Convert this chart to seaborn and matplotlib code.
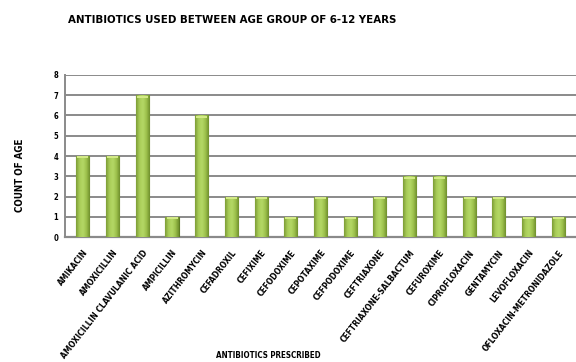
import matplotlib
matplotlib.use("Agg")
import matplotlib.pyplot as plt
import seaborn as sns
import numpy as np
import pandas as pd
from matplotlib.colors import LinearSegmentedColormap

antibiotics = [
    "AMIKACIN", "AMOXICILLIN", "AMOXICILLIN CLAVULANIC ACID", "AMPICILLIN",
    "AZITHROMYCIN", "CEFADROXIL", "CEFIXIME", "CEFODOXIME", "CEPOTAXIME",
    "CEFPODOXIME", "CEFTRIAXONE", "CEFTRIAXONE-SALBACTUM", "CEFUROXIME",
    "CIPROFLOXACIN", "GENTAMYCIN", "LEVOFLOXACIN", "OFLOXACIN-METRONIDAZOLE",
]
counts = [4, 4, 7, 1, 6, 2, 2, 1, 2, 1, 2, 3, 3, 2, 2, 1, 1]
y_ticks = [0, 1, 2, 3, 4, 5, 6, 7, 8]

df = pd.DataFrame({"antibiotic": antibiotics, "count": counts})

sns.set_style("white")
plt.rcParams["font.family"] = ["DejaVu Sans"]
plt.rcParams["font.stretch"] = "condensed"
plt.rcParams["font.weight"] = "bold"
plt.rcParams["text.color"] = "black"
plt.rcParams["xtick.labelcolor"] = "black"
plt.rcParams["ytick.labelcolor"] = "black"

fig = plt.figure(figsize=(5.76, 3.62), dpi=100)
ax = fig.add_axes([0.113, 0.345, 0.887, 0.448])

sns.barplot(data=df, x="antibiotic", y="count", color="#9cbf4c",
            width=0.44, edgecolor="#5e7d23", linewidth=0.8, ax=ax,
            saturation=1, zorder=3)

# shade each bar with a soft horizontal gradient and a light top cap
shade = LinearSegmentedColormap.from_list(
    "bar", ["#7c9c35", "#a9cd58", "#b4d866", "#9ec24d", "#6f8f2c"])
grad = np.linspace(0, 1, 64).reshape(1, -1)
for patch in ax.patches:
    x0, y0 = patch.get_x(), patch.get_y()
    w, h = patch.get_width(), patch.get_height()
    im = ax.imshow(grad, extent=(x0, x0 + w, y0, y0 + h), cmap=shade,
                   aspect="auto", zorder=3.5, interpolation="bicubic")
    im.set_clip_path(patch)
    cap = min(0.12, h * 0.5)
    ax.fill_between([x0 + w * 0.08, x0 + w * 0.92], y0 + h - cap, y0 + h - 0.02,
                    color="#d3ea86", zorder=3.6, linewidth=0)

ax.set_xlim(-0.6, 16.6)
ax.set_ylim(0, 8)
ax.set_yticks(y_ticks)
ax.set_yticklabels([str(t) for t in y_ticks], fontsize=5.5, fontweight="bold")
ax.yaxis.grid(True, color="#8a8a8a", linewidth=1.4, zorder=0)
ax.set_axisbelow(True)

for side in ["top", "right"]:
    ax.spines[side].set_visible(False)
ax.spines["left"].set_color("#8a8a8a")
ax.spines["left"].set_linewidth(1.4)
ax.spines["bottom"].set_color("#8a8a8a")
ax.spines["bottom"].set_linewidth(1.6)
ax.tick_params(axis="y", length=3, color="#8a8a8a", pad=2)
ax.tick_params(axis="x", length=0, pad=8)

ax.set_xticks(range(len(antibiotics)))
ax.set_xticklabels(antibiotics, rotation=52, ha="right", rotation_mode="anchor",
                   fontsize=6.0, fontweight="bold")

ax.set_xlabel("")
ax.set_ylabel("")
fig.text(0.035, 0.517, "COUNT OF AGE", rotation=90, ha="center", va="center",
         fontsize=7, fontweight="bold")
fig.text(0.465, 0.019, "ANTIBIOTICS PRESCRIBED", ha="center", va="center",
         fontsize=5.8, fontweight="bold")
fig.text(0.403, 0.945, "ANTIBIOTICS USED BETWEEN AGE GROUP OF 6-12 YEARS",
         ha="center", va="center", fontsize=8.2, fontweight="bold")

fig.savefig("out.png", dpi=100)
